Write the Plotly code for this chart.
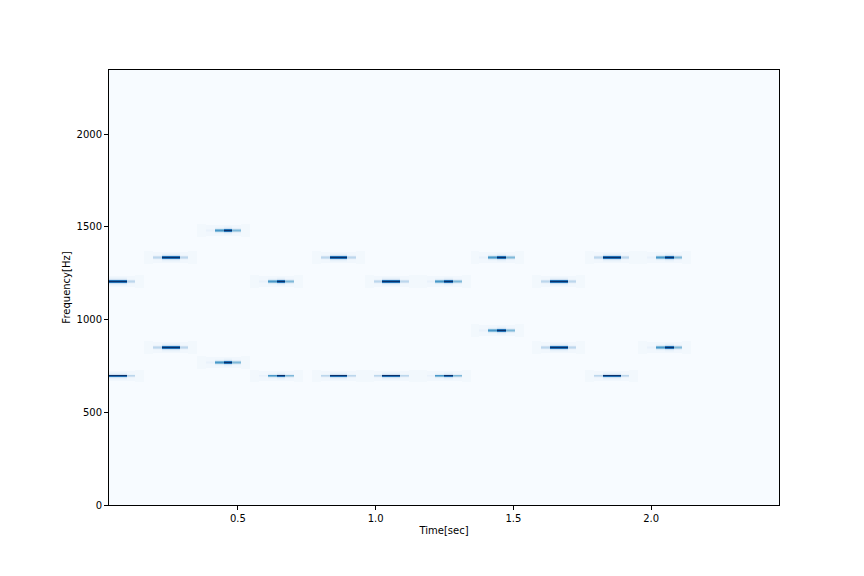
import numpy as np
import plotly.graph_objects as go

# ---- data ----
# DTMF tones: low / high frequency (Hz) for each key press
low_freqs = [697, 852, 770, 697, 697, 697, 697, 941, 852, 697, 852]
high_freqs = [1209, 1336, 1477, 1209, 1336, 1209, 1209, 1336, 1209, 1336, 1336]
# first time-frame index (frames of 0.032 s, index 0 -> centre 0.016 s) of each tone
tone_start_frames = [0, 6, 12, 18, 25, 31, 37, 43, 50, 56, 62]
# which time-intensity profile each tone shows
tone_profile_kind = ["A", "A", "B", "B", "A", "A", "B", "B", "A", "A", "B"]
time_profiles = {
    "A": [0.28, 1.0, 1.0, 0.28],
    "B": [0.07, 0.6, 1.0, 0.45],
}
# intensity across neighbouring frequency rows (offset -5 .. +5)
freq_profile = [0.03, 0.05, 0.08, 0.2, 0.75, 1.0, 0.75, 0.2, 0.08, 0.05, 0.03]

frame_step = 0.032
n_frames = 78
freq_max = 2345.0
n_rows = 440

x_ticks = [0.5, 1.0, 1.5, 2.0]
x_tick_text = ["0.5", "1.0", "1.5", "2.0"]
y_ticks = [0, 500, 1000, 1500, 2000]
y_tick_text = ["0", "500", "1000", "1500", "2000"]

# ---- build spectrogram grid ----
df = freq_max / n_rows
t_edges = np.arange(n_frames + 1) * frame_step
f_edges = np.arange(n_rows + 1) * df
z = np.zeros((n_rows, n_frames))
half = len(freq_profile) // 2
for lo, hi, s, kind in zip(low_freqs, high_freqs, tone_start_frames, tone_profile_kind):
    tp = time_profiles[kind]
    for f0 in (lo, hi):
        r0 = int(f0 // df)
        for j, tv in enumerate(tp):
            c = s + j
            if 0 <= c < n_frames:
                for k, fv in enumerate(freq_profile):
                    r = r0 + k - half
                    if 0 <= r < n_rows:
                        z[r, c] = max(z[r, c], max(tv * fv, 0.03))
        # faint halo on each side
        for c in (s - 1, s + len(tp)):
            if 0 <= c < n_frames:
                for k in range(-6, 7):
                    r = r0 + k
                    if 0 <= r < n_rows:
                        z[r, c] = max(z[r, c], 0.025)

blues = [
    [0.0, "#f7fbff"], [0.125, "#deebf7"], [0.25, "#c6dbef"], [0.375, "#9ecae1"],
    [0.5, "#6baed6"], [0.625, "#4292c6"], [0.75, "#2171b5"], [0.875, "#08519c"],
    [1.0, "#08306b"],
]

fig = go.Figure(
    go.Heatmap(
        x=t_edges, y=f_edges, z=z, colorscale=blues, zmin=0, zmax=1,
        showscale=False, hoverinfo="skip",
    )
)

axis_common = dict(
    showline=True, linecolor="black", linewidth=1, mirror=True,
    ticks="outside", ticklen=4, tickwidth=1, tickcolor="black",
    showgrid=False, zeroline=False,
    tickfont=dict(family="DejaVu Sans", size=10, color="black"),
)

fig.update_layout(
    width=864, height=576,
    margin=dict(l=101, r=93, t=62, b=79),
    paper_bgcolor="white", plot_bgcolor="#f7fbff",
    font=dict(family="DejaVu Sans", size=10, color="black"),
    xaxis=dict(
        range=[0.032, 2.464], tickvals=x_ticks, ticktext=x_tick_text,
        title=dict(text="Time[sec]", standoff=3,
                   font=dict(family="DejaVu Sans", size=10, color="black")),
        **axis_common,
    ),
    yaxis=dict(
        range=[0, freq_max], tickvals=y_ticks, ticktext=y_tick_text,
        title=dict(text="Frequency[Hz]", standoff=4,
                   font=dict(family="DejaVu Sans", size=10, color="black")),
        **axis_common,
    ),
)

fig.write_html("out.html")
